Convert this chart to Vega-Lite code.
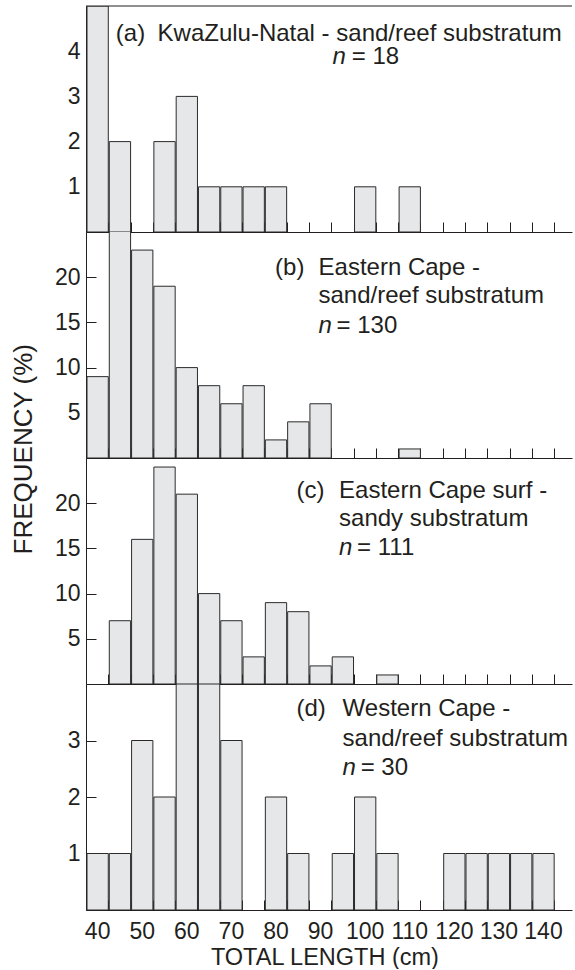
{
  "$schema": "https://vega.github.io/schema/vega-lite/v6.json",
  "padding": {"left": 10, "top": 5, "right": 0, "bottom": 0},
  "background": "white",
  "spacing": 0,
  "bounds": "flush",
  "config": {
    "view": {"stroke": null},
    "font": "Liberation Sans",
    "axis": {
      "grid": false,
      "zindex": 1,
      "domainColor": "#231f20",
      "tickColor": "#231f20",
      "labelColor": "#231f20",
      "titleColor": "#231f20",
      "labelFont": "Liberation Sans",
      "titleFont": "Liberation Sans",
      "labelFontSize": 23,
      "titleFontWeight": "normal",
      "tickSize": -10,
      "tickWidth": 1,
      "domainWidth": 1
    },
    "text": {"font": "Liberation Sans", "fontSize": 24, "color": "#231f20", "align": "left", "baseline": "alphabetic"}
  },
  "datasets": {
    "a": [
      {"bin_start": 37.5, "bin_end": 42.5, "count": 5},
      {"bin_start": 42.5, "bin_end": 47.5, "count": 2},
      {"bin_start": 52.5, "bin_end": 57.5, "count": 2},
      {"bin_start": 57.5, "bin_end": 62.5, "count": 3},
      {"bin_start": 62.5, "bin_end": 67.5, "count": 1},
      {"bin_start": 67.5, "bin_end": 72.5, "count": 1},
      {"bin_start": 72.5, "bin_end": 77.5, "count": 1},
      {"bin_start": 77.5, "bin_end": 82.5, "count": 1},
      {"bin_start": 97.5, "bin_end": 102.5, "count": 1},
      {"bin_start": 107.5, "bin_end": 112.5, "count": 1}
    ],
    "b": [
      {"bin_start": 37.5, "bin_end": 42.5, "count": 9},
      {"bin_start": 42.5, "bin_end": 47.5, "count": 34},
      {"bin_start": 47.5, "bin_end": 52.5, "count": 23},
      {"bin_start": 52.5, "bin_end": 57.5, "count": 19},
      {"bin_start": 57.5, "bin_end": 62.5, "count": 10},
      {"bin_start": 62.5, "bin_end": 67.5, "count": 8},
      {"bin_start": 67.5, "bin_end": 72.5, "count": 6},
      {"bin_start": 72.5, "bin_end": 77.5, "count": 8},
      {"bin_start": 77.5, "bin_end": 82.5, "count": 2},
      {"bin_start": 82.5, "bin_end": 87.5, "count": 4},
      {"bin_start": 87.5, "bin_end": 92.5, "count": 6},
      {"bin_start": 107.5, "bin_end": 112.5, "count": 1}
    ],
    "c": [
      {"bin_start": 42.5, "bin_end": 47.5, "count": 7},
      {"bin_start": 47.5, "bin_end": 52.5, "count": 16},
      {"bin_start": 52.5, "bin_end": 57.5, "count": 24},
      {"bin_start": 57.5, "bin_end": 62.5, "count": 21},
      {"bin_start": 62.5, "bin_end": 67.5, "count": 10},
      {"bin_start": 67.5, "bin_end": 72.5, "count": 7},
      {"bin_start": 72.5, "bin_end": 77.5, "count": 3},
      {"bin_start": 77.5, "bin_end": 82.5, "count": 9},
      {"bin_start": 82.5, "bin_end": 87.5, "count": 8},
      {"bin_start": 87.5, "bin_end": 92.5, "count": 2},
      {"bin_start": 92.5, "bin_end": 97.5, "count": 3},
      {"bin_start": 102.5, "bin_end": 107.5, "count": 1}
    ],
    "d": [
      {"bin_start": 37.5, "bin_end": 42.5, "count": 1},
      {"bin_start": 42.5, "bin_end": 47.5, "count": 1},
      {"bin_start": 47.5, "bin_end": 52.5, "count": 3},
      {"bin_start": 52.5, "bin_end": 57.5, "count": 2},
      {"bin_start": 57.5, "bin_end": 62.5, "count": 4},
      {"bin_start": 62.5, "bin_end": 67.5, "count": 4},
      {"bin_start": 67.5, "bin_end": 72.5, "count": 3},
      {"bin_start": 77.5, "bin_end": 82.5, "count": 2},
      {"bin_start": 82.5, "bin_end": 87.5, "count": 1},
      {"bin_start": 92.5, "bin_end": 97.5, "count": 1},
      {"bin_start": 97.5, "bin_end": 102.5, "count": 2},
      {"bin_start": 102.5, "bin_end": 107.5, "count": 1},
      {"bin_start": 117.5, "bin_end": 122.5, "count": 1},
      {"bin_start": 122.5, "bin_end": 127.5, "count": 1},
      {"bin_start": 127.5, "bin_end": 132.5, "count": 1},
      {"bin_start": 132.5, "bin_end": 137.5, "count": 1},
      {"bin_start": 137.5, "bin_end": 142.5, "count": 1}
    ]
  },
  "vconcat": [
    {
      "width": 486,
      "height": 226,
      "resolve": {"axis": {"x": "independent", "y": "independent"}},
      "layer": [
        {
          "data": {"name": "a"},
          "mark": {"type": "bar", "fill": "#e6e7e8", "stroke": "#2b2b2b", "strokeWidth": 1, "clip": true},
          "encoding": {
            "x": {"field": "bin_start", "bin": "binned", "type": "quantitative", "scale": {"domain": [37.5, 146.5], "nice": false, "zero": false},
              "axis": {"orient": "bottom", "values": [37.5, 42.5, 47.5, 52.5, 57.5, 62.5, 67.5, 72.5, 77.5, 82.5, 87.5, 92.5, 97.5, 102.5, 107.5, 112.5, 117.5, 122.5, 127.5, 132.5, 137.5, 142.5], "labels": false, "title": null}},
            "x2": {"field": "bin_end"},
            "y": {"field": "count", "type": "quantitative", "scale": {"domain": [0, 5], "nice": false},
              "axis": {"orient": "left", "values": [1, 2, 3, 4], "labels": false, "title": null}}
          }
        },
        {"data": {"values": [{}]}, "mark": {"type": "rule", "color": "#231f20", "strokeWidth": 1}, "encoding": {"y": {"datum": 5, "type": "quantitative",
          "axis": {"orient": "left", "values": [1, 2, 3, 4], "format": "d", "ticks": false, "tickSize": 0, "domain": false, "labelPadding": 6, "title": null}}}},
        {"data": {"values": [{}]}, "mark": {"type": "text"}, "encoding": {"x": {"datum": 44.2, "type": "quantitative", "axis": null}, "y": {"datum": 4.222, "type": "quantitative", "axis": null}, "text": {"value": "(a)"}}},
        {"data": {"values": [{}]}, "mark": {"type": "text"}, "encoding": {"x": {"datum": 53.55, "type": "quantitative", "axis": null}, "y": {"datum": 4.222, "type": "quantitative", "axis": null}, "text": {"value": "KwaZulu-Natal - sand/reef substratum"}}},
        {"data": {"values": [{}]}, "mark": {"type": "text", "fontStyle": "italic"}, "encoding": {"x": {"datum": 92.8, "type": "quantitative", "axis": null}, "y": {"datum": 3.72, "type": "quantitative", "axis": null}, "text": {"value": "n"}}},
        {"data": {"values": [{}]}, "mark": {"type": "text"}, "encoding": {"x": {"datum": 97.1, "type": "quantitative", "axis": null}, "y": {"datum": 3.72, "type": "quantitative", "axis": null}, "text": {"value": "= 18"}}}
      ]
    },
    {
      "width": 486,
      "height": 226,
      "resolve": {"axis": {"x": "independent", "y": "independent"}},
      "layer": [
        {
          "data": {"name": "b"},
          "mark": {"type": "bar", "fill": "#e6e7e8", "stroke": "#2b2b2b", "strokeWidth": 1, "clip": true},
          "encoding": {
            "x": {"field": "bin_start", "bin": "binned", "type": "quantitative", "scale": {"domain": [37.5, 146.5], "nice": false, "zero": false},
              "axis": {"orient": "bottom", "values": [37.5, 42.5, 47.5, 52.5, 57.5, 62.5, 67.5, 72.5, 77.5, 82.5, 87.5, 92.5, 97.5, 102.5, 107.5, 112.5, 117.5, 122.5, 127.5, 132.5, 137.5, 142.5], "labels": false, "title": null}},
            "x2": {"field": "bin_end"},
            "y": {"field": "count", "type": "quantitative", "scale": {"domain": [0, 25], "nice": false},
              "axis": {"orient": "left", "values": [5, 10, 15, 20], "labels": false, "title": null}}
          }
        },
        {"data": {"values": [{}]}, "mark": {"type": "text"}, "encoding": {"x": {"datum": 79.9, "type": "quantitative", "axis": null}, "y": {"datum": 20.28, "type": "quantitative",
          "axis": {"orient": "left", "values": [5, 10, 15, 20], "format": "d", "ticks": false, "tickSize": 0, "domain": false, "labelPadding": 6,
            "title": "FREQUENCY (%)", "titleFontSize": 26, "titleX": -55, "titleY": 216.7, "titleBaseline": "alphabetic", "titleAlign": "center", "titleAngle": -90}}, "text": {"value": "(b)"}}},
        {"data": {"values": [{}]}, "mark": {"type": "text", "lineHeight": 28.5}, "encoding": {"x": {"datum": 89.65, "type": "quantitative", "axis": null}, "y": {"datum": 20.28, "type": "quantitative", "axis": null}, "text": {"value": ["Eastern Cape -", "sand/reef substratum"]}}},
        {"data": {"values": [{}]}, "mark": {"type": "text", "fontStyle": "italic"}, "encoding": {"x": {"datum": 89.65, "type": "quantitative", "axis": null}, "y": {"datum": 13.83, "type": "quantitative", "axis": null}, "text": {"value": "n"}}},
        {"data": {"values": [{}]}, "mark": {"type": "text"}, "encoding": {"x": {"datum": 93.7, "type": "quantitative", "axis": null}, "y": {"datum": 13.83, "type": "quantitative", "axis": null}, "text": {"value": "= 130"}}}
      ]
    },
    {
      "width": 486,
      "height": 226,
      "resolve": {"axis": {"x": "independent", "y": "independent"}},
      "layer": [
        {
          "data": {"name": "c"},
          "mark": {"type": "bar", "fill": "#e6e7e8", "stroke": "#2b2b2b", "strokeWidth": 1, "clip": true},
          "encoding": {
            "x": {"field": "bin_start", "bin": "binned", "type": "quantitative", "scale": {"domain": [37.5, 146.5], "nice": false, "zero": false},
              "axis": {"orient": "bottom", "values": [37.5, 42.5, 47.5, 52.5, 57.5, 62.5, 67.5, 72.5, 77.5, 82.5, 87.5, 92.5, 97.5, 102.5, 107.5, 112.5, 117.5, 122.5, 127.5, 132.5, 137.5, 142.5], "labels": false, "title": null}},
            "x2": {"field": "bin_end"},
            "y": {"field": "count", "type": "quantitative", "scale": {"domain": [0, 25], "nice": false},
              "axis": {"orient": "left", "values": [5, 10, 15, 20], "labels": false, "title": null}}
          }
        },
        {"data": {"values": [{}]}, "mark": {"type": "text"}, "encoding": {"x": {"datum": 84.7, "type": "quantitative", "axis": null}, "y": {"datum": 20.55, "type": "quantitative",
          "axis": {"orient": "left", "values": [5, 10, 15, 20], "format": "d", "ticks": false, "tickSize": 0, "domain": false, "labelPadding": 6, "title": null}}, "text": {"value": "(c)"}}},
        {"data": {"values": [{}]}, "mark": {"type": "text", "lineHeight": 28}, "encoding": {"x": {"datum": 94.25, "type": "quantitative", "axis": null}, "y": {"datum": 20.55, "type": "quantitative", "axis": null}, "text": {"value": ["Eastern Cape surf -", "sandy substratum"]}}},
        {"data": {"values": [{}]}, "mark": {"type": "text", "fontStyle": "italic"}, "encoding": {"x": {"datum": 94.25, "type": "quantitative", "axis": null}, "y": {"datum": 14.3, "type": "quantitative", "axis": null}, "text": {"value": "n"}}},
        {"data": {"values": [{}]}, "mark": {"type": "text"}, "encoding": {"x": {"datum": 98.3, "type": "quantitative", "axis": null}, "y": {"datum": 14.3, "type": "quantitative", "axis": null}, "text": {"value": "= 111"}}}
      ]
    },
    {
      "width": 486,
      "height": 226,
      "resolve": {"axis": {"x": "independent", "y": "independent"}},
      "layer": [
        {
          "data": {"name": "d"},
          "mark": {"type": "bar", "fill": "#e6e7e8", "stroke": "#2b2b2b", "strokeWidth": 1, "clip": true},
          "encoding": {
            "x": {"field": "bin_start", "bin": "binned", "type": "quantitative", "scale": {"domain": [37.5, 146.5], "nice": false, "zero": false},
              "axis": {"orient": "bottom", "values": [37.5, 42.5, 47.5, 52.5, 57.5, 62.5, 67.5, 72.5, 77.5, 82.5, 87.5, 92.5, 97.5, 102.5, 107.5, 112.5, 117.5, 122.5, 127.5, 132.5, 137.5, 142.5], "labels": false, "title": null}},
            "x2": {"field": "bin_end"},
            "y": {"field": "count", "type": "quantitative", "scale": {"domain": [0, 4], "nice": false},
              "axis": {"orient": "left", "values": [1, 2, 3], "labels": false, "title": null}}
          }
        },
        {"data": {"values": [{}]}, "mark": {"type": "text"}, "encoding": {
          "x": {"datum": 84.7, "type": "quantitative",
            "axis": {"orient": "bottom", "values": [40, 50, 60, 70, 80, 90, 100, 110, 120, 130, 140], "format": "d", "ticks": false, "tickSize": 0, "domain": false,
              "labelOverlap": false, "labelFlush": false, "labelBound": false, "labelPadding": 10,
              "title": "TOTAL LENGTH (cm)", "titleFontSize": 23.5, "titleX": 238.4, "titleY": 54.4, "titleBaseline": "alphabetic", "titleAlign": "center"}},
          "y": {"datum": 3.425, "type": "quantitative",
            "axis": {"orient": "left", "values": [1, 2, 3], "format": "d", "ticks": false, "tickSize": 0, "domain": false, "labelPadding": 6, "title": null}},
          "text": {"value": "(d)"}}},
        {"data": {"values": [{}]}, "mark": {"type": "text", "lineHeight": 29.7}, "encoding": {"x": {"datum": 95.05, "type": "quantitative", "axis": null}, "y": {"datum": 3.425, "type": "quantitative", "axis": null}, "text": {"value": ["Western Cape -", "sand/reef substratum"]}}},
        {"data": {"values": [{}]}, "mark": {"type": "text", "fontStyle": "italic"}, "encoding": {"x": {"datum": 95.05, "type": "quantitative", "axis": null}, "y": {"datum": 2.388, "type": "quantitative", "axis": null}, "text": {"value": "n"}}},
        {"data": {"values": [{}]}, "mark": {"type": "text"}, "encoding": {"x": {"datum": 99.1, "type": "quantitative", "axis": null}, "y": {"datum": 2.388, "type": "quantitative", "axis": null}, "text": {"value": "= 30"}}}
      ]
    }
  ]
}
